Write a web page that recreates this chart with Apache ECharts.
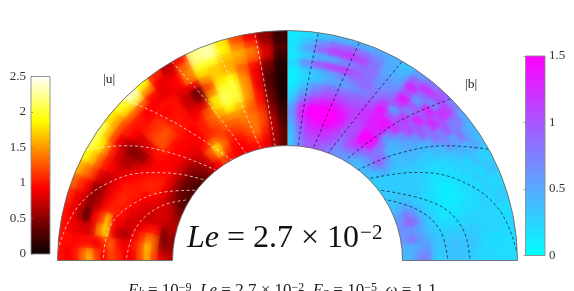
<!DOCTYPE html>
<html><head><meta charset="utf-8">
<style>html,body{margin:0;padding:0;background:#fff}#c{width:574px;height:291px}</style>
<script src="https://cdn.jsdelivr.net/npm/echarts@6/dist/echarts.min.js"></script>
</head><body><div id="c"></div>
<script>
// Ring centres (fraction of the outer radius), outermost ring first
const ringRadii = [0.984,0.953,0.922,0.891,0.859,0.828,0.797,0.766,0.734,0.703,0.672,0.641,0.609,0.578,0.547,0.516];
// Sector centres in degrees, 3.75 degree wide
const sectorAngles = [1.875,5.625,9.375,13.125,16.875,20.625,24.375,28.125,31.875,35.625,39.375,43.125,46.875,50.625,54.375,58.125,61.875,65.625,69.375,73.125,76.875,80.625,84.375,88.125];
// |u| : angle counted from the west horizontal towards north
const uRows = [
[1.0,1.0,1.0,1.0,1.1,1.3,1.6,1.9,2.1,2.1,1.8,2.0,2.4,1.9,1.1,0.7,1.0,2.2,2.3,1.8,1.2,0.9,0.5,0.2],
[.9,1.0,.9,.9,.9,1.1,1.4,1.7,1.9,1.7,1.6,1.8,2.1,1.5,.9,.8,1.3,2.2,2.3,1.9,1.4,1.1,.6,.2],
[1.0,.95,.85,.7,.8,.95,1.2,1.35,1.5,1.25,1.25,1.35,1.3,1.0,.85,.95,1.4,2.0,2.0,1.7,1.6,1.4,.8,.3],
[1.3,1.0,.8,.3,.5,.55,.85,1.05,1.05,.9,1.05,1.05,.95,.9,.85,.95,1.4,1.8,1.7,1.6,1.5,1.3,.8,.2],
[1.6,1.0,.8,.9,.65,.55,.7,.95,.8,.7,.95,1.0,.95,1.0,1.0,.85,.9,1.5,1.7,1.6,1.3,1.0,.5,.1],
[1.2,.9,1.4,1.1,.9,.85,.8,.8,.65,.5,.8,1.05,1.1,.95,1.0,.75,.4,1.2,1.8,1.9,1.4,.9,.4,.1],
[.95,1.1,1.8,1.7,1.05,1.0,.95,.85,.65,.5,.8,1.15,1.15,1.0,1.0,.75,.45,1.4,2.0,2.0,1.5,.9,.3,.08],
[1.2,1.3,.9,.9,1.05,1.1,1.05,.95,.8,.55,.85,1.25,1.25,1.05,1.0,.85,.8,1.8,2.1,2.0,1.5,.9,.3,.08],
[1.1,1.0,.7,.9,1.0,1.05,1.05,1.0,.9,.8,1.0,1.25,1.2,1.05,1.0,.95,1.2,1.8,2.1,2.0,1.5,1.0,.4,.08],
[.9,.9,.65,.75,.85,.95,1.05,1.05,1.0,.95,1.0,1.05,1.0,1.0,.95,1.05,1.3,1.6,1.9,1.7,1.4,1.0,.4,.1],
[.9,1.0,.9,.8,.8,.85,.95,1.1,1.05,.95,.95,.95,.95,.95,.95,1.05,1.25,1.4,1.5,1.5,1.3,1.1,.5,.15],
[1.2,1.2,1.1,.9,.75,.8,.9,1.05,1.05,1.0,.9,.9,.9,.9,.95,1.05,1.15,1.3,1.3,1.4,1.4,1.2,.6,.2],
[1.6,1.7,1.4,1.0,.75,.75,.85,.9,.9,.85,.8,.8,.8,.85,1.0,1.3,1.2,1.1,1.2,1.3,1.4,1.2,.7,.25],
[1.2,1.3,1.3,1.0,.8,.8,.8,.7,.65,.6,.6,.6,.65,.8,1.25,1.8,1.35,1.05,1.05,1.2,1.4,1.1,.7,.35],
[.85,.6,.45,.5,.7,.8,.7,.5,.45,.4,.4,.45,.55,.75,1.15,1.7,1.2,.95,.95,1.1,1.2,1.0,.65,.35],
[.7,.6,.55,.65,.7,.6,.45,.35,.3,.3,.3,.35,.45,.65,.95,1.2,1.0,.9,.9,.95,1.0,.9,.6,.35]
];
// |b| : angle counted from north towards the east horizontal
const bRows = [
[.12,.2,.3,.4,.4,.45,.5,.45,.35,.55,.75,.9,.7,.5,.4,.35,.25,.35,.25,.3,.2,.25,.2,.2],
[.15,.35,.65,.85,.9,.85,.7,.5,.4,.9,1.25,1.1,1.1,.8,.5,.55,.25,.35,.2,.3,.2,.2,.2,.2],
[.2,.55,.95,1.2,1.25,1.1,.8,.45,.5,1.3,.9,.6,1.25,.7,.85,.4,.4,.2,.3,.2,.25,.25,.2,.2],
[.12,.25,.35,.4,.6,.8,.85,.6,.6,1.0,.5,1.35,1.0,1.0,.5,.45,.2,.3,.2,.3,.25,.25,.2,.25],
[.25,.7,1.05,1.2,1.2,1.0,.8,.6,.7,1.4,1.0,.9,1.3,.7,.7,.35,.3,.2,.25,.2,.25,.25,.2,.2],
[.1,.3,.4,.5,.65,.8,.9,.75,.85,1.1,.7,1.35,.8,.85,.4,.3,.2,.2,.2,.2,.25,.3,.3,.25],
[.08,.2,.3,.45,.5,.6,.7,.85,1.15,.45,1.2,.9,1.0,.5,.4,.25,.2,.15,.15,.2,.25,.3,.35,.3],
[.12,.35,.6,.8,.85,.85,.9,1.0,1.4,1.0,1.0,1.1,.6,.4,.3,.2,.2,.1,.1,.15,.2,.3,.35,.35],
[.2,.55,.8,1.0,1.05,1.0,1.0,1.15,1.3,1.4,1.25,.7,.5,.4,.3,.2,.15,.1,.1,.15,.2,.3,.4,.35],
[.3,.8,1.1,1.3,1.35,1.2,1.1,1.2,1.3,1.4,.8,.5,.5,.4,.3,.25,.2,.15,.15,.15,.2,.3,.35,.35],
[.5,1.2,1.5,1.5,1.5,1.4,1.15,1.05,1.3,1.2,.5,.4,.4,.4,.3,.3,.25,.2,.2,.2,.25,.3,.35,.3],
[.6,1.3,1.5,1.5,1.5,1.4,1.05,1.0,1.5,1.5,.85,.4,.4,.35,.3,.3,.3,.25,.25,.3,.3,.35,.35,.3],
[.5,1.1,1.35,1.45,1.45,1.25,.95,1.05,1.5,1.4,.75,.8,.45,.3,.3,.3,.3,.3,.35,.4,.4,.45,.6,.7],
[.4,.9,1.2,1.25,1.2,1.1,.85,1.1,1.2,.9,.8,1.0,.6,.3,.3,.3,.35,.4,.6,.8,.5,.6,.5,.75],
[.35,.8,1.05,1.1,1.1,1.0,.75,.95,.8,.6,.55,.65,.4,.3,.3,.3,.35,.5,.8,.95,.6,.85,.45,.5],
[.3,.7,.95,1.0,.9,.8,.6,.6,.5,.4,.4,.4,.3,.3,.3,.3,.35,.4,.55,.65,.6,.65,.45,.4]
];
// Dashed field lines as [radius fraction, angle]
const uLines = [
[[.991,81.8],[.748,82.7],[.5,83.8]],
[[.989,71.4],[.76,73.1],[.506,76.3]],
[[1,59.8],[.755,63.5],[.5,68.8]],
[[.996,44.8],[.765,51],[.5,61]],
[[1,28.7],[.87,35],[.707,42],[.504,51.5]],
[[1,2.6],[.948,13.4],[.854,23],[.709,32.6],[.613,38],[.5,44.3]],
[[.8,.8],[.786,10.8],[.713,20.3],[.604,29.7],[.504,37.3]],
[[.7,.9],[.672,12.6],[.602,22.9],[.511,31]]
];
const bLines = [
[[.994,7.7],[.746,6.4],[.5,5.4]],
[[.994,18.2],[.741,16.2],[.5,13]],
[[.996,29.9],[.748,26.7],[.5,20.7]],
[[.996,45.2],[.772,38.6],[.504,30]],
[[.998,61],[.859,54.5],[.67,46],[.5,38]],
[[.996,87.4],[.943,76],[.822,64.8],[.674,55.4],[.5,44.7]],
[[.793,89.3],[.771,79],[.687,68.8],[.5,52.2]],
[[.696,89.2],[.676,78.7],[.609,68.9],[.497,57.6]]
];
const uTicks = {min:0,max:2.5,interval:0.5};
const bTicks = {min:0,max:1.5,interval:0.5};
const hotColors = ['#0a0000','#550000','#aa0000','#ff0000','#ff5500','#ffaa00','#ffff00','#ffff80','#ffffff'];
const coolColors = ['#00ffff','#ff00ff'];

const SERIF = '"Liberation Serif","DejaVu Serif",serif';
function cells(rows){const o=[];rows.forEach((row,i)=>row.forEach((v,j)=>o.push([ringRadii[i],sectorAngles[j],v])));return o;}
function cellShape(params,api,c,s,grow){
  return {cx:params.coordSys.cx,cy:params.coordSys.cy,r0:c[2]-s[0]/2-grow,r:c[2]+s[0]/2+grow,
    startAngle:-(c[3]+s[1]/2)-grow/c[2],endAngle:-(c[3]-s[1]/2)+grow/c[2]};
}
function cellSize(api,val){return api.size([ringRadii[0]-ringRadii[1],sectorAngles[1]-sectorAngles[0]],val);}
// base pass: solid cells
function renderCell(params,api){
  const val=[api.value(0),api.value(1)],c=api.coord(val),s=cellSize(api,val),color=api.visual('color');
  return {type:'sector',shape:cellShape(params,api,c,s,0.4),style:{fill:color}};
}
// soft pass: only the blurred shadow of each cell lands on the canvas, which removes the block edges
const OFF=3000;
function renderSoft(params,api){
  const val=[api.value(0),api.value(1)],c=api.coord(val),s=cellSize(api,val),color=api.visual('color');
  const sh=cellShape(params,api,c,s,0.5); sh.cx-=OFF;
  return {type:'sector',shape:sh,style:{fill:color,shadowBlur:7,shadowColor:color,shadowOffsetX:OFF}};
}
function heat(idx,rows,fn,z){return {type:'custom',coordinateSystem:'polar',polarIndex:idx,clip:true,silent:true,
  renderItem:fn,encode:{radius:0,angle:1},data:cells(rows),z:z};}
function fieldLines(idx,lines,color){return lines.map(l=>({type:'line',coordinateSystem:'polar',polarIndex:idx,data:l,smooth:0.4,
  showSymbol:false,silent:true,z:4,lineStyle:{color:color,width:0.9,type:[3,2.5]}}));}
function outline(idx){return {type:'custom',coordinateSystem:'polar',polarIndex:idx,clip:false,silent:true,z:5,data:[[0.75,45]],encode:{radius:0,angle:1},
  renderItem(params,api){const c=api.coord([.75,45]),s=api.size([.5,90],[.75,45]);
    return {type:'sector',shape:{cx:params.coordSys.cx,cy:params.coordSys.cy,r0:c[2]-s[0]/2,r:c[2]+s[0]/2,startAngle:-(c[3]+s[1]/2),endAngle:-(c[3]-s[1]/2)},
      style:{fill:'none',stroke:'#6a6a6a',lineWidth:0.9}};}};}
// Colour bar: one rectangle spanning the whole axis range, filled with the colour map
function colorBar(gridIdx,ticks,colors){
  return {type:'custom',coordinateSystem:'cartesian2d',xAxisIndex:gridIdx,yAxisIndex:gridIdx,silent:true,z:3,clip:false,
    data:[[0,ticks.min,ticks.max]],encode:{x:0,y:[1,2]},
    renderItem(params,api){
      const b=api.coord([0,api.value(1)]),t=api.coord([0,api.value(2)]),a=params.coordSys;
      return {type:'rect',shape:{x:a.x,y:t[1],width:a.width,height:b[1]-t[1]},
        style:{stroke:'#8a8a8a',lineWidth:0.9,fill:new echarts.graphic.LinearGradient(0,1,0,0,colors.map((color,i)=>({offset:i/(colors.length-1),color})))}};
    }};
}
function ang(start,end){return {type:'value',min:0,max:90,startAngle:start,endAngle:end,clockwise:true,show:false};}
const centre=[287.5,260.5];
const cmapAxis={z:10,splitLine:{show:false},axisLine:{show:false},axisTick:{inside:true,length:2,lineStyle:{color:'#777',width:.7}}};
const lab=(m)=>({margin:m,fontFamily:SERIF,fontSize:13,color:'#333',showMinLabel:true,showMaxLabel:true,padding:[2,0,0,0]});
const ns={fontFamily:SERIF,fontWeight:'normal'};

const chart=echarts.init(document.getElementById('c'),null,{renderer:'canvas'});
chart.setOption({
  animation:false,backgroundColor:'#fff',
  polar:[{center:centre,radius:[115,230]},{center:centre,radius:[115,230]}],
  angleAxis:[Object.assign(ang(180,90),{polarIndex:0}),Object.assign(ang(90,0),{polarIndex:1})],
  radiusAxis:[{polarIndex:0,type:'value',min:.5,max:1,show:false},{polarIndex:1,type:'value',min:.5,max:1,show:false}],
  grid:[{left:31,top:76.5,width:19,height:177.5,show:false},{left:525.5,top:56,width:19.5,height:199.5,show:false}],
  xAxis:[{gridIndex:0,show:false,type:'value',min:0,max:1},{gridIndex:1,show:false,type:'value',min:0,max:1}],
  yAxis:[
    Object.assign({gridIndex:0,type:'value',position:'left',axisLabel:lab(5)},cmapAxis,uTicks),
    Object.assign({gridIndex:1,type:'value',position:'right',axisLabel:lab(4)},cmapAxis,bTicks)
  ],
  visualMap:[
    {type:'continuous',show:false,seriesIndex:[0,2],dimension:2,min:0,max:2.5,inRange:{color:hotColors}},
    {type:'continuous',show:false,seriesIndex:[1,3],dimension:2,min:0,max:1.5,inRange:{color:coolColors}}
  ],
  title:[
    {text:'|u|',left:103,top:72,padding:0,textStyle:Object.assign({fontSize:13.5,color:'#222'},ns)},
    {text:'|b|',left:465,top:77,padding:0,textStyle:Object.assign({fontSize:13.5,color:'#222'},ns)},
    {text:'{i|Le}{n| = 2.7 × 10}{s|−2}',left:187,top:223,padding:0,textStyle:Object.assign({},ns,{rich:{
       i:Object.assign({fontStyle:'italic',fontSize:32,color:'#111'},ns),
       n:Object.assign({fontSize:32,color:'#111'},ns),
       s:Object.assign({fontSize:21,color:'#111',verticalAlign:'top',padding:[0,0,0,1]},ns)}})},
    {text:'{i|E}{d|k}{n| = 10}{u|−9}{n|, }{i|Le}{n| = 2.7 × 10}{u|−2}{n|, }{i|E}{d|η}{n| = 10}{u|−5}{n|, }{i|ω}{n| = 1.1}',left:128,top:282,padding:0,textStyle:Object.assign({},ns,{rich:{
       i:Object.assign({fontStyle:'italic',fontSize:17,color:'#222'},ns),
       n:Object.assign({fontSize:17,color:'#222'},ns),
       u:Object.assign({fontSize:12,color:'#222',verticalAlign:'top'},ns),
       d:Object.assign({fontStyle:'italic',fontSize:12,color:'#222',verticalAlign:'bottom'},ns)}})}
  ],
  series:[heat(0,uRows,renderCell,1),heat(1,bRows,renderCell,1),heat(0,uRows,renderSoft,2),heat(1,bRows,renderSoft,2),
    ...fieldLines(0,uLines,'rgba(255,255,255,.75)'),...fieldLines(1,bLines,'rgba(0,0,0,.7)'),outline(0),outline(1),
    colorBar(0,uTicks,hotColors),colorBar(1,bTicks,coolColors)]
});
</script></body></html>
